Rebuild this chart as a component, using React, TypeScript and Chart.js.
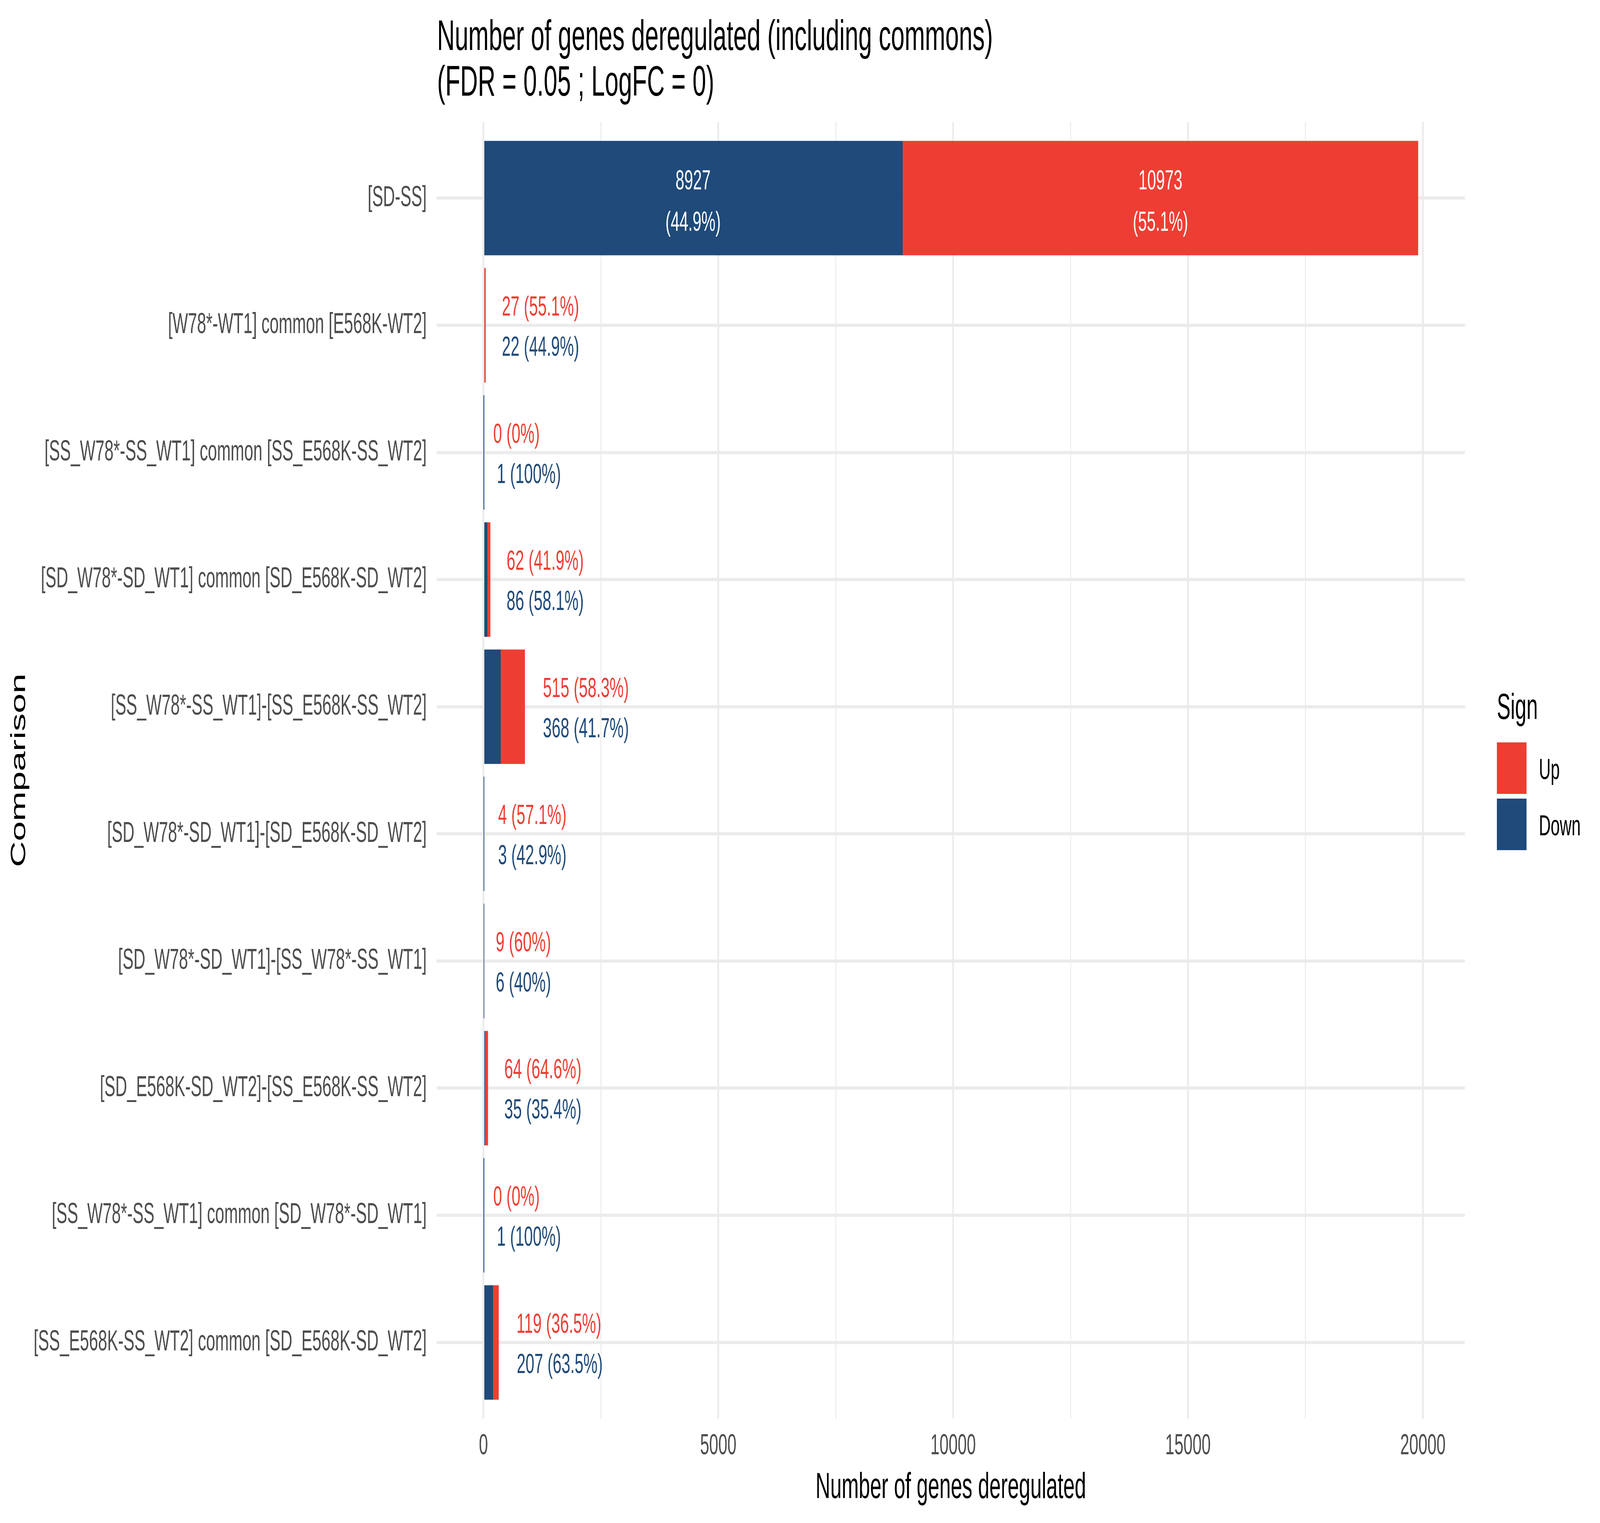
import { useEffect, useRef } from "react"
import { Chart, registerables } from "chart.js"

Chart.register(...registerables)

// Comparisons, top to bottom as in the figure
const comparisons = [
  "[SD-SS]",
  "[W78*-WT1] common [E568K-WT2]",
  "[SS_W78*-SS_WT1] common [SS_E568K-SS_WT2]",
  "[SD_W78*-SD_WT1] common [SD_E568K-SD_WT2]",
  "[SS_W78*-SS_WT1]-[SS_E568K-SS_WT2]",
  "[SD_W78*-SD_WT1]-[SD_E568K-SD_WT2]",
  "[SD_W78*-SD_WT1]-[SS_W78*-SS_WT1]",
  "[SD_E568K-SD_WT2]-[SS_E568K-SS_WT2]",
  "[SS_W78*-SS_WT1] common [SD_W78*-SD_WT1]",
  "[SS_E568K-SS_WT2] common [SD_E568K-SD_WT2]",
]
const upCounts = [10973, 27, 0, 62, 515, 4, 9, 64, 0, 119]
const downCounts = [8927, 22, 1, 86, 368, 3, 6, 35, 1, 207]

const xMajorTicks = [0, 5000, 10000, 15000, 20000]
const xMinorTicks = [2500, 7500, 12500, 17500]

const RED = "#EE3E33"
const BLUE = "#1F4A7A"
const GRID = "#EBEBEB"
const FONT = "'Liberation Sans', Arial, sans-serif"

const pct = (v: number, total: number) => String(Math.round((v / total) * 1000) / 10)

const annotations = {
  id: "annotations",
  afterDatasetsDraw(chart: any) {
    const ctx = chart.ctx
    const xs = chart.scales.x
    const ys = chart.scales.y
    ctx.save()
    ctx.font = `71px ${FONT}`
    ctx.textBaseline = "alphabetic"
    comparisons.forEach((_, i) => {
      const up = upCounts[i]
      const down = downCounts[i]
      const total = up + down
      const yc = ys.getPixelForValue(i)
      const x0 = xs.getPixelForValue(0)
      const xDown = xs.getPixelForValue(down)
      const xTotal = xs.getPixelForValue(total)
      const upText = `${up} (${pct(up, total)}%)`
      const downText = `${down} (${pct(down, total)}%)`
      if (xDown - x0 > ctx.measureText(downText).width) {
        // labels inside each segment, two lines, white
        ctx.fillStyle = "#FFFFFF"
        ctx.textAlign = "center"
        ctx.fillText(String(down), (x0 + xDown) / 2, yc - 22)
        ctx.fillText(`(${pct(down, total)}%)`, (x0 + xDown) / 2, yc + 84)
        ctx.fillText(String(up), (xDown + xTotal) / 2, yc - 22)
        ctx.fillText(`(${pct(up, total)}%)`, (xDown + xTotal) / 2, yc + 84)
      } else {
        ctx.textAlign = "left"
        ctx.fillStyle = RED
        ctx.fillText(upText, xTotal + 0.21 * ctx.measureText(upText).width, yc - 25)
        ctx.fillStyle = BLUE
        ctx.fillText(downText, xTotal + 0.21 * ctx.measureText(downText).width, yc + 78)
      }
    })
    ctx.restore()
  },
  afterDraw(chart: any) {
    const ctx = chart.ctx
    const area = chart.chartArea
    ctx.save()
    ctx.fillStyle = "#000000"
    ctx.textBaseline = "alphabetic"

    // plot title
    ctx.textAlign = "left"
    ctx.font = `110px ${FONT}`
    ctx.fillText("Number of genes deregulated (including commons)", area.left + 2, 128)
    ctx.fillText("(FDR = 0.05 ; LogFC = 0)", area.left + 2, 245)

    // axis titles
    ctx.font = `92px ${FONT}`
    ctx.textAlign = "center"
    ctx.fillText("Number of genes deregulated", (area.left + area.right) / 2, 3836)
    ctx.save()
    ctx.translate(113, (area.top + area.bottom) / 2)
    ctx.rotate(-Math.PI / 2)
    ctx.fillText("Comparison", 0, 0)
    ctx.restore()

    // legend
    ctx.textAlign = "left"
    ctx.fillText("Sign", 6736, 1841)
    ctx.fillStyle = RED
    ctx.fillRect(6736, 1901, 133, 132)
    ctx.fillStyle = BLUE
    ctx.fillRect(6736, 2045, 133, 132)
    ctx.fillStyle = "#000000"
    ctx.font = `73.5px ${FONT}`
    ctx.fillText("Up", 6925, 1995)
    ctx.fillText("Down", 6925, 2139)
    ctx.restore()
  },
}

export default function App() {
  const canvasRef = useRef<HTMLCanvasElement>(null)
  const chartRef = useRef<Chart | null>(null)

  useEffect(() => {
    if (!canvasRef.current) return
    if (chartRef.current) chartRef.current.destroy()

    chartRef.current = new Chart(canvasRef.current, {
      type: "bar",
      data: {
        labels: comparisons,
        datasets: [
          {
            label: "Down",
            data: downCounts.map((v, i) => ({ x: v, y: i })),
            backgroundColor: BLUE,
          },
          {
            label: "Up",
            data: upCounts.map((v, i) => ({ x: v, y: i })),
            backgroundColor: RED,
          },
        ],
      },
      options: {
        indexAxis: "y",
        responsive: false,
        animation: false,
        devicePixelRatio: 1,
        layout: { padding: { left: 0, top: 312, right: 608, bottom: 0 } },
        datasets: { bar: { categoryPercentage: 0.9, barPercentage: 1, borderWidth: 0 } },
        plugins: {
          legend: { display: false },
          title: { display: false },
          tooltip: { enabled: false },
        },
        scales: {
          x: {
            type: "linear",
            stacked: true,
            min: -995,
            max: 20895,
            afterBuildTicks: (scale: any) => {
              scale.ticks = [...xMajorTicks, ...xMinorTicks]
                .sort((a, b) => a - b)
                .map((value) => ({ value }))
            },
            afterFit: (scale: any) => {
              scale.height = 267
            },
            ticks: {
              callback: (value: any) => (xMajorTicks.includes(value) ? String(value) : ""),
              font: { family: FONT, size: 73.5 },
              color: "#4D4D4D",
              padding: 27,
              autoSkip: false,
              maxRotation: 0,
            },
            grid: {
              color: GRID,
              lineWidth: (c: any) => (xMajorTicks.includes(c.tick?.value) ? 8 : 4),
              drawTicks: false,
            },
            border: { display: false },
          },
          y: {
            type: "linear",
            stacked: true,
            reverse: true,
            offset: false,
            min: -0.6,
            max: 9.6,
            afterBuildTicks: (scale: any) => {
              scale.ticks = comparisons.map((_, i) => ({ value: i }))
            },
            afterFit: (scale: any) => {
              scale.width = 1965
            },
            ticks: {
              callback: (value: any) => comparisons[value] ?? "",
              font: { family: FONT, size: 73.5 },
              color: "#4D4D4D",
              padding: 45,
              autoSkip: false,
            },
            grid: { color: GRID, lineWidth: 8, drawTicks: false, offset: false },
            border: { display: false },
          },
        },
      },
      plugins: [annotations],
    } as any)

    return () => {
      if (chartRef.current) {
        chartRef.current.destroy()
        chartRef.current = null
      }
    }
  }, [])

  // the canvas keeps a 7200x3900 backing store and is stretched over the viewport
  return (
    <div style={{ position: "fixed", left: 0, top: 0, width: "100vw", height: "100vh", overflow: "hidden", background: "#FFFFFF" }}>
      <canvas ref={canvasRef} width={7200} height={3900} style={{ display: "block", width: "100vw", height: "100vh" }} />
    </div>
  )
}
